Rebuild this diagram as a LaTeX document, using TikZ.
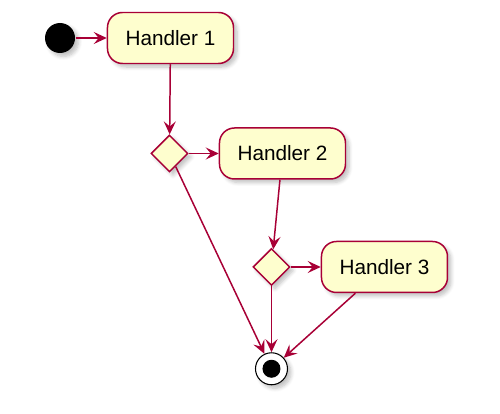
\documentclass[tikz,border=0pt]{standalone}
\usepackage{fontspec}
\setmainfont{Liberation Sans}
\usepackage{tikz}
\usetikzlibrary{arrows.meta, positioning, shapes.geometric, shadows.blur}

\definecolor{umlborder}{HTML}{A80036}
\definecolor{umlfill}{HTML}{FEFECE}

\begin{document}
\begin{tikzpicture}[line width=0.85pt, >={Stealth[length=2.6mm, width=2.4mm, inset=1mm]}]

	\tikzset{
		shade/.style={
				blur shadow={shadow xshift=0.07cm, shadow yshift=-0.07cm, shadow blur steps=6, shadow opacity=25}
			},
		startdot/.style={
				circle, fill=black, inner sep=0pt, minimum size=0.6cm, shade
			},
		handler/.style={
				rectangle, rounded corners=0.3cm, draw=umlborder, fill=umlfill, inner sep=0pt,
				minimum width=2.52cm, minimum height=1.02cm, font=\fontsize{11.8}{14}\selectfont, shade
			},
		decision/.style={
				diamond, draw=umlborder, fill=umlfill, inner sep=0pt, aspect=1,
				minimum width=0.74cm, minimum height=0.74cm, shade
			},
		stopdot/.style={
				circle, draw=black, line width=0.6pt, fill=white, inner sep=0pt, minimum size=0.64cm,
				path picture={\fill[black] (path picture bounding box.center) circle (0.18cm);}, shade
			},
		flow/.style={->, draw=umlborder}
	}

	\useasboundingbox (0,0) rectangle (10,-8.26);

	\node[startdot] (start) at (1.2,-0.76) {};
	\node[handler, right=0.62cm of start] (h1) {Handler 1};
	\node[decision, below=1.4cm of h1, xshift=-0.02cm] (d1) {};
	\node[handler, right=0.6cm of d1] (h2) {Handler 2};
	\node[decision, below=1.36cm of h2, xshift=-0.22cm] (d2) {};
	\node[handler, right=0.6cm of d2] (h3) {Handler 3};
	\node[stopdot, below=1.32cm of d2] (stop) {};

	\draw[flow] (start) -- (h1);
	\draw[flow] (h1) -- (d1);
	\draw[flow] (d1) -- (h2);
	\draw[flow] (h2) -- (d2);
	\draw[flow] (d2) -- (h3);
	\draw[flow] (d1) -- (stop);
	\draw[flow] (d2) -- (stop);
	\draw[flow] (h3) -- (stop);

\end{tikzpicture}
\end{document}
